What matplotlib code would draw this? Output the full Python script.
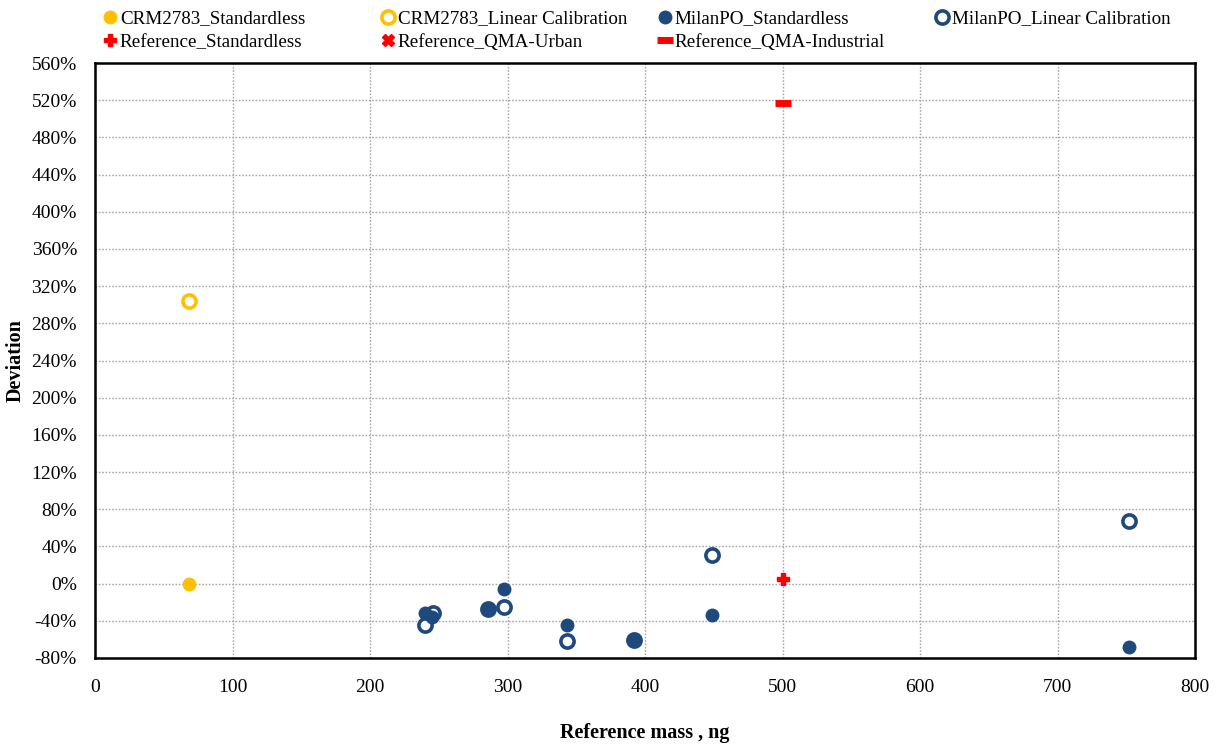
import matplotlib
matplotlib.use("Agg")
import matplotlib.pyplot as plt
from matplotlib.ticker import FuncFormatter, MultipleLocator

plt.rcParams['font.family'] = ['Liberation Serif', 'DejaVu Serif']

crm_std_x = [68]
crm_std_y = [0]
crm_lin_x = [68]
crm_lin_y = [304]
milan_std_x = [240, 245, 286, 297.5, 343, 392, 448.5, 752]
milan_std_y = [-32, -36, -27, -6, -44.5, -61, -34, -68]
milan_lin_x = [240, 246, 286, 297.5, 343, 392, 448.5, 752]
milan_lin_y = [-44.5, -31.5, -27, -25, -62, -61, 31, 67.5]
ref_std_x = [500]
ref_std_y = [5]
ref_urban_x = []   # no visible point in the chart
ref_urban_y = []
ref_ind_x = [500]
ref_ind_y = [517]

yellow = '#FFC000'
navy = '#1F497D'
red = '#FF0000'

fig = plt.figure(figsize=(12.21, 7.46), dpi=100)
ax = fig.add_axes([95/1221, 88/746, 1100/1221, 595/746])

h_crm_std, = ax.plot(crm_std_x, crm_std_y, 'o', color=yellow, ms=9, ls='none', label='CRM2783_Standardless', zorder=4)
h_crm_lin, = ax.plot(crm_lin_x, crm_lin_y, 'o', mfc='white', mec=yellow, mew=2.6, ms=9.5, ls='none', label='CRM2783_Linear Calibration', zorder=3)
h_mil_lin, = ax.plot(milan_lin_x, milan_lin_y, 'o', mfc='white', mec=navy, mew=2.6, ms=9.5, ls='none', label='MilanPO_Linear Calibration', zorder=3)
h_mil_std, = ax.plot(milan_std_x, milan_std_y, 'o', color=navy, ms=9, ls='none', label='MilanPO_Standardless', zorder=4)
h_ref_std, = ax.plot(ref_std_x, ref_std_y, 'P', color=red, ms=8, ls='none', label='Reference_Standardless', zorder=3)
h_ref_urb, = ax.plot(ref_urban_x, ref_urban_y, 'X', color=red, ms=8, ls='none', label='Reference_QMA-Urban', zorder=2)
h_ref_ind, = ax.plot(ref_ind_x, ref_ind_y, '_', color=red, ms=11, mew=5, ls='none', label='Reference_QMA-Industrial', zorder=3)

ax.set_xlim(0, 800)
ax.set_ylim(-80, 560)
ax.xaxis.set_major_locator(MultipleLocator(100))
ax.yaxis.set_major_locator(MultipleLocator(40))
ax.yaxis.set_major_formatter(FuncFormatter(lambda v, p: f'{int(round(v))}%'))
ax.grid(True, color='#a8a8a8', ls=(0, (1.2, 1.2)), lw=1.0)
ax.set_axisbelow(True)
for s in ax.spines.values():
    s.set_linewidth(1.8)
    s.set_color('black')
ax.tick_params(labelsize=14, length=0)
ax.tick_params(axis='y', pad=13)
ax.tick_params(axis='x', pad=15)
ax.set_xlabel('Reference mass , ng', fontsize=14.5, fontweight='bold')
ax.set_ylabel('Deviation', fontsize=14.5, fontweight='bold')
ax.xaxis.set_label_coords(0.5, -(723 - 658) / 595)
ax.yaxis.set_label_coords(-(95 - 6) / 1100, 0.5)
ax.yaxis.label.set_va('top')

columns = [
    ([h_crm_std, h_ref_std], 105),
    ([h_crm_lin, h_ref_urb], 383),
    ([h_mil_std, h_ref_ind], 660),
    ([h_mil_lin], 937),
]
for handles, xpx in columns:
    leg = fig.legend(handles=handles, loc='upper left', bbox_to_anchor=(xpx/1221, 1 - 10/746),
                     ncol=1, frameon=False, fontsize=13.7, handlelength=0.5, handletextpad=0.28,
                     labelspacing=0.32, borderpad=0, borderaxespad=0)

fig.savefig('out.png', dpi=100)
